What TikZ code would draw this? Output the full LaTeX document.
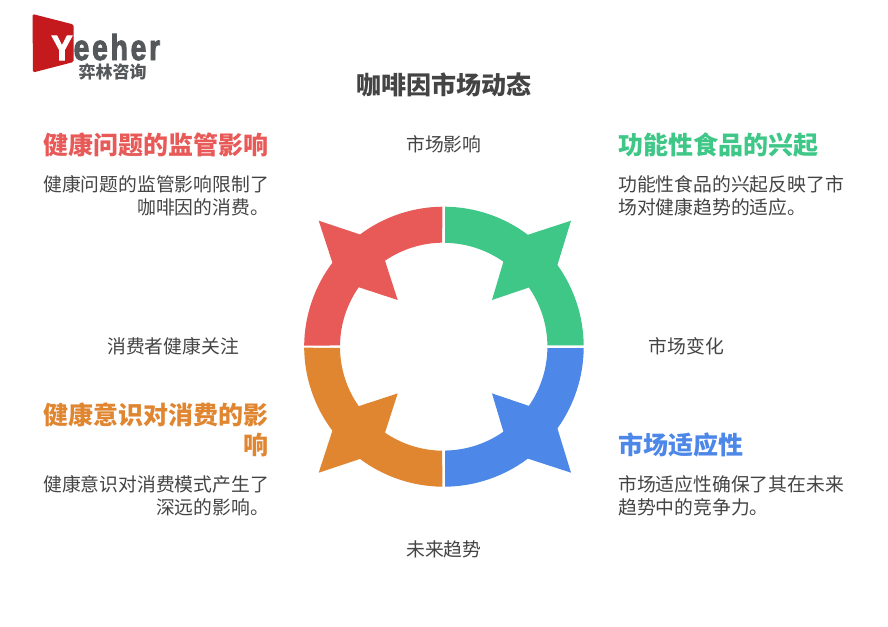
\documentclass[tikz,border=0pt]{standalone}
\usepackage{fontspec}
\setmainfont{Noto Sans CJK SC}
\newfontfamily\latinb{Liberation Sans}[FakeStretch=0.78,LetterSpace=8,FakeBold=2.5]
\newfontfamily\latiny{Liberation Sans}[FakeStretch=0.9,FakeBold=3]
\definecolor{cred}{HTML}{E85A58}
\definecolor{cgreen}{HTML}{3EC787}
\definecolor{cblue}{HTML}{4D87E8}
\definecolor{corange}{HTML}{E08530}
\definecolor{ctext}{HTML}{444444}
\definecolor{clogo}{HTML}{C4191D}
\definecolor{clogot}{HTML}{55585A}
\tikzset{
  head/.style={font=\fontsize{25}{30}\selectfont\bfseries,inner sep=0pt},
  body/.style={font=\fontsize{18.8}{23}\selectfont,text=ctext,inner sep=0pt},
  lab/.style={font=\fontsize{18.8}{23}\selectfont,text=ctext,inner sep=0pt}
}
\begin{document}
\begin{tikzpicture}[x=1pt,y=-1pt]
\useasboundingbox (0,0) rectangle (888,626);
\fill[white] (0,0) rectangle (888,626);
% ring
\begin{scope}[shift={(443.7,346.7)}]
\def\segment{%
 (1.3,-140) arc[start angle=-89.47,end angle=-53.06,radius=140] -- (127.3,-126) -- (113.7,-81.7)
 arc[start angle=-35.7,end angle=-0.53,radius=140] -- (103.7,-1.3)
 arc[start angle=-0.72,end angle=-34.8,radius=103.7] -- (48.3,-46.7) -- (59.7,-85)
 arc[start angle=-54.9,end angle=-89.28,radius=103.7] -- cycle}
\def\segmentleft{%
 (1.3,-140) arc[start angle=-89.47,end angle=-53.3,radius=140] -- (125,-126) -- (111.3,-84)
 arc[start angle=-37.04,end angle=-0.53,radius=140] -- (103.7,-1.3)
 arc[start angle=-0.72,end angle=-35,radius=103.7] -- (46,-46.7) -- (58.7,-86)
 arc[start angle=-55.7,end angle=-89.28,radius=103.7] -- cycle}
\fill[cgreen] \segment;
\begin{scope}[yscale=-1]\fill[cblue] \segment;\end{scope}
\begin{scope}[xscale=-1]\fill[cred] \segmentleft;\end{scope}
\begin{scope}[xscale=-1,yscale=-1]\fill[corange] \segmentleft;\end{scope}
\end{scope}
% title
\node[head,text=ctext] (title) at (444,85) {咖啡因市场动态};
\node[lab] (l1) at (443.8,144) {市场影响};
\node[lab] (l2) at (686.3,346) {市场变化};
\node[lab] (l3) at (443.8,549) {未来趋势};
\node[lab] (l4) at (173,346) {消费者健康关注};
\node[head,text=cred,anchor=east] (h1) at (269,145) {健康问题的监管影响};
\node[body,anchor=north east,align=right] (b1) at (269,175) {健康问题的监管影响限制了\\咖啡因的消费。};
\node[head,text=cgreen,anchor=west] (h2) at (618,145) {功能性食品的兴起};
\node[body,anchor=north west,align=left] (b2) at (618,175) {功能性食品的兴起反映了市\\场对健康趋势的适应。};
\node[head,text=corange,anchor=north east,align=right] (h3) at (269,403) {健康意识对消费的影\\响};
\node[body,anchor=north east,align=right] (b3) at (269,475) {健康意识对消费模式产生了\\深远的影响。};
\node[head,text=cblue,anchor=west] (h4) at (618,445) {市场适应性};
\node[body,anchor=north west,align=left] (b4) at (618,475) {市场适应性确保了其在未来\\趋势中的竞争力。};
% logo
\fill[clogo,rounded corners=1.5pt] (32.5,14) -- (73.5,24.5) -- (73.5,62) -- (33,72.5) -- cycle;
\node[font=\fontsize{35}{35}\selectfont,inner sep=0pt,text=white,anchor=base] (ly) at (62,60) {\latiny\bfseries Y};
\node[font=\fontsize{36}{36}\selectfont,inner sep=0pt,text=clogot,anchor=base west] (le) at (73.5,60) {\latinb\bfseries eeher};
\node[font=\fontsize{17}{14}\selectfont\bfseries,inner sep=0pt,text=clogot,text height=13pt,text depth=0pt] (lc) at (112.5,72) {弈林咨询};
\end{tikzpicture}
\end{document}
